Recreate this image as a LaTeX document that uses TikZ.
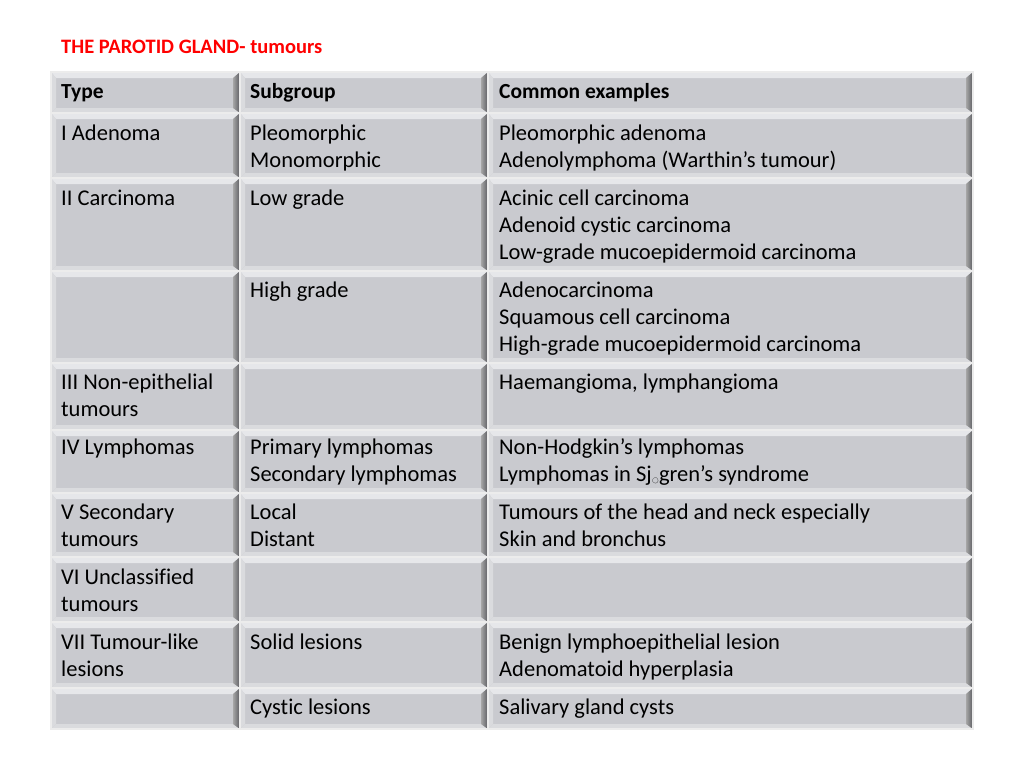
\documentclass[tikz,border=0pt]{standalone}
\usepackage{fontspec}
\setmainfont[Ligatures={NoCommon}]{Carlito}
\definecolor{cellfill}{HTML}{C9CACF}
\definecolor{bevdark}{HTML}{5A5B60}
\definecolor{bevlight}{HTML}{E6E7EA}
\definecolor{bevmid}{HTML}{DADBDE}
\definecolor{titlered}{HTML}{FF0000}
\newcommand{\bcell}[4]{%
  \fill[cellfill] (#1,#2) rectangle (#3,#4);
  \fill[bevlight] (#1,#2) -- (#3,#2) -- (#3-7,#2+6) -- (#1+5,#2+6) -- cycle;
  \fill[bevmid] (#1,#2) -- (#1+5,#2+6) -- (#1+5,#4-5) -- (#1,#4) -- cycle;
  \fill[bevmid] (#1,#4) -- (#1+5,#4-5) -- (#3-7,#4-5) -- (#3,#4) -- cycle;
  \shade[left color=gray!70, right color=bevdark] (#3,#2) -- (#3,#4) -- (#3-7,#4-5) -- (#3-7,#2+6) -- cycle;
  \draw[white!85!gray, line width=1.2] (#1,#2) rectangle (#3,#4);
}
\tikzset{txt/.style={anchor=base west, inner sep=0, align=left, font=\fontsize{22.5}{27}\selectfont, text=black}}
\begin{document}
\begin{tikzpicture}[x=1pt,y=-1pt]
\useasboundingbox (0,0) rectangle (1024,768);
\fill[white] (0,0) rectangle (1024,768);
\node[anchor=base west, inner sep=0, text=titlered, font=\fontsize{20.5}{24}\selectfont\bfseries] (title) at (61,54) {THE PAROTID GLAND- tumours};
\foreach \ya/\yb in {72/113,113/178,178/271,271/363,363/430,430/493,493/557,557/622,622/688,688/729}{
  \bcell{51}{\ya}{240}{\yb}
  \bcell{240}{\ya}{488}{\yb}
  \bcell{488}{\ya}{973}{\yb}
}
\node[txt, font=\fontsize{21.5}{27}\selectfont\bfseries] (h1) at (61,98) {Type};
\node[txt, font=\fontsize{21.5}{27}\selectfont\bfseries] (h2) at (250,98) {Subgroup};
\node[txt, font=\fontsize{21.5}{27}\selectfont\bfseries] (h3) at (499,98) {Common examples};
\node[txt] (a1) at (61,140) {I Adenoma};
\node[txt] (a2) at (250,167) {Pleomorphic\\Monomorphic};
\node[txt] (a3) at (499,167) {Pleomorphic adenoma\\Adenolymphoma (Warthin’s tumour)};
\node[txt] (b1) at (61,205) {II Carcinoma};
\node[txt] (b2) at (250,205) {Low grade};
\node[txt] (b3) at (499,259) {Acinic cell carcinoma\\Adenoid cystic carcinoma\\Low-grade mucoepidermoid carcinoma};
\node[txt] (c2) at (250,297) {High grade};
\node[txt] (c3) at (499,351) {Adenocarcinoma\\Squamous cell carcinoma\\High-grade mucoepidermoid carcinoma};
\node[txt] (d1) at (61,416) {III Non-epithelial\\tumours};
\node[txt] (d3) at (499,389) {Haemangioma, lymphangioma};
\node[txt] (e1) at (61,454) {IV Lymphomas};
\node[txt] (e2) at (250,481) {Primary lymphomas\\Secondary lymphomas};
\node[txt] (e3) at (499,481) {Non-Hodgkin’s lymphomas\\Lymphomas in Sj\raisebox{-0.35ex}{\fontsize{12}{12}\selectfont◌}gren’s syndrome};
\node[txt] (f1) at (61,546) {V Secondary\\tumours};
\node[txt] (f2) at (250,546) {Local\\Distant};
\node[txt] (f3) at (499,546) {Tumours of the head and neck especially\\Skin and bronchus};
\node[txt] (g1) at (61,611) {VI Unclassified\\tumours};
\node[txt] (h1r) at (61,676) {VII Tumour-like\\lesions};
\node[txt] (h2r) at (250,649) {Solid lesions};
\node[txt] (h3r) at (499,676) {Benign lymphoepithelial lesion\\Adenomatoid hyperplasia};
\node[txt] (i2) at (250,714) {Cystic lesions};
\node[txt] (i3) at (499,714) {Salivary gland cysts};
\end{tikzpicture}
\end{document}
